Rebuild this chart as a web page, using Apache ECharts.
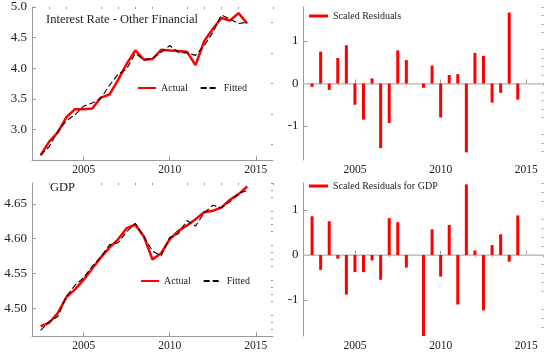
<!DOCTYPE html>
<html>
<head>
<meta charset="utf-8">
<script src="https://cdn.jsdelivr.net/npm/echarts@6/dist/echarts.min.js"></script>
<style>html,body{margin:0;padding:0;background:#fff}#c{width:550px;height:352px}</style>
</head>
<body>
<div id="c"></div>
<script>
// ---- data ----
var dates = [2002.5, 2003, 2003.5, 2004, 2004.5, 2005, 2005.5, 2006, 2006.5, 2007, 2007.5, 2008, 2008.5,
             2009, 2009.5, 2010, 2010.5, 2011, 2011.5, 2012, 2012.5, 2013, 2013.5, 2014, 2014.5];
var rateActual = [2.58, 2.80, 2.95, 3.20, 3.33, 3.33, 3.34, 3.52, 3.57, 3.81, 4.07, 4.29, 4.14,
                  4.15, 4.30, 4.29, 4.28, 4.27, 4.05, 4.44, 4.64, 4.82, 4.78, 4.90, 4.73];
var rateFitted = [2.58, 2.72, 2.97, 3.14, 3.24, 3.38, 3.43, 3.51, 3.72, 3.90, 3.99, 4.24, 4.14,
                  4.16, 4.26, 4.37, 4.26, 4.25, 4.21, 4.37, 4.58, 4.87, 4.80, 4.73, 4.75];
var rateResid = [-0.08, 0.75, -0.15, 0.60, 0.90, -0.50, -0.85, 0.12, -1.52, -0.93, 0.78, 0.55, 0.0,
                 -0.10, 0.42, -0.80, 0.20, 0.22, -1.62, 0.72, 0.65, -0.45, -0.22, 1.67, -0.38];
var gdpActual = [4.474, 4.479, 4.493, 4.516, 4.527, 4.541, 4.557, 4.573, 4.587, 4.599, 4.615, 4.620, 4.603,
                 4.570, 4.579, 4.599, 4.611, 4.619, 4.628, 4.638, 4.640, 4.645, 4.656, 4.664, 4.675];
var gdpFitted = [4.468, 4.481, 4.488, 4.517, 4.533, 4.544, 4.560, 4.574, 4.591, 4.594, 4.610, 4.622, 4.603,
                 4.582, 4.575, 4.602, 4.607, 4.626, 4.618, 4.637, 4.648, 4.644, 4.653, 4.665, 4.669];
var gdpResid = [0.86, -0.33, 0.75, -0.08, -0.88, -0.38, -0.38, -0.12, -0.55, 0.82, 0.73, -0.28, 0.0,
                -1.92, 0.57, -0.48, 0.67, -1.10, 1.57, 0.10, -1.23, 0.22, 0.46, -0.15, 0.88];

var xMajor = [2005, 2010, 2015];
var xMinor = [2003, 2004, 2006, 2007, 2008, 2009, 2011, 2012, 2013, 2014, 2016];
var rateTicks = [3.0, 3.5, 4.0, 4.5, 5.0];
var rateMinor = [2.75, 3.25, 3.75, 4.25, 4.75];
var residTicks = [-1, 0, 1];
var residMinor = [-1.6, -1.4, -1.2, -0.8, -0.6, -0.4, -0.2, 0.2, 0.4, 0.6, 0.8, 1.2, 1.4, 1.6, 1.8];
var gdpTicks = [4.50, 4.55, 4.60, 4.65];
var gdpMinor = [4.47, 4.48, 4.49, 4.51, 4.52, 4.53, 4.54, 4.56, 4.57, 4.58, 4.59, 4.61, 4.62, 4.63, 4.64, 4.66, 4.67, 4.68];

// ---- chart ----
var FONT = "'Liberation Serif','Times New Roman',serif";
var AX = '#9a9a9a';
function pairs(xs, ys) { return xs.map(function (x, i) { return [x, ys[i]]; }); }

var grids = [
  {left: 32, top: 7, width: 241, height: 153},
  {left: 303.5, top: 7, width: 240, height: 153},
  {left: 32, top: 183, width: 241, height: 153},
  {left: 303.5, top: 183, width: 240, height: 153}
];
grids.forEach(function (g) { g.outerBoundsMode = 'none'; g.containLabel = false; });

var xAxes = [], yAxes = [];
var yCfg = [
  {min: 2.5, max: 5.0, major: rateTicks, minor: rateMinor, fmt: function (v) { return v.toFixed(1); }},
  {min: -1.8, max: 1.8, major: residTicks, minor: residMinor, fmt: function (v) { return String(Math.round(v)); }},
  {min: 4.46, max: 4.68, major: gdpTicks, minor: gdpMinor, fmt: function (v) { return v.toFixed(2); }},
  {min: -1.8, max: 1.6, major: residTicks, minor: residMinor.filter(function (v) { return v <= 1.6; }), fmt: function (v) { return String(Math.round(v)); }}
];
for (var g = 0; g < 4; g++) {
  xAxes.push({
    type: 'value', gridIndex: g, min: 2002, max: 2016,
    axisLine: {show: true, lineStyle: {color: AX, width: 1}},
    axisTick: {show: true, inside: true, length: 4, customValues: xMajor, lineStyle: {color: AX}},
    axisLabel: {show: true, customValues: xMajor, margin: 4, formatter: function (v) { return String(Math.round(v)); },
      fontFamily: FONT, fontSize: 11.5, color: '#222'},
    splitLine: {show: false}
  });
  xAxes.push({
    type: 'value', gridIndex: g, min: 2002, max: 2016,
    axisLine: {show: false},
    axisTick: {show: true, inside: true, length: 2, customValues: xMinor, lineStyle: {color: AX}},
    axisLabel: {show: false},
    splitLine: {show: false}
  });
  var c = yCfg[g];
  yAxes.push({
    type: 'value', gridIndex: g, min: c.min, max: c.max,
    axisLine: {show: true, lineStyle: {color: AX, width: 1}},
    axisTick: {show: true, inside: true, length: 4, customValues: c.major, lineStyle: {color: AX}},
    axisLabel: {show: true, customValues: c.major, margin: 5, formatter: c.fmt, fontFamily: FONT, fontSize: 13, color: '#222'},
    splitLine: {show: false}
  });
  yAxes.push({
    type: 'value', gridIndex: g, min: c.min, max: c.max,
    axisLine: {show: false},
    axisTick: {show: true, inside: true, length: 2, customValues: c.minor, lineStyle: {color: AX}},
    axisLabel: {show: false},
    splitLine: {show: false}
  });
}

function actualLine(name, xi, data) {
  return {type: 'line', name: name, xAxisIndex: xi, yAxisIndex: xi, data: data, symbol: 'none',
    lineStyle: {color: '#ff0000', width: 2.5}, itemStyle: {color: '#ff0000'}, z: 3, animation: false};
}
function fittedLine(name, xi, data) {
  return {type: 'line', name: name, xAxisIndex: xi, yAxisIndex: xi, data: data, symbol: 'none',
    lineStyle: {color: '#000', width: 1.1, type: [6, 3]}, itemStyle: {color: '#000'}, z: 4, animation: false};
}
function residBars(name, xi, data) {
  return {type: 'bar', name: name, xAxisIndex: xi, yAxisIndex: xi, data: data, barWidth: 3,
    itemStyle: {color: '#ff0000'}, z: 3, animation: false,
    markLine: {silent: true, symbol: 'none', label: {show: false}, animation: false,
      lineStyle: {color: '#cfcfcf', width: 1.5, type: 'solid'}, data: [{yAxis: 0}], z: 1}};
}

var legendText = {fontFamily: FONT, fontSize: 10, color: '#222'};
function lineLegend(left, top) {
  return {data: ['Actual', 'Fitted'], left: left, top: top, padding: 0, itemWidth: 18, itemHeight: 8, itemGap: 12,
    itemStyle: {opacity: 0}, textStyle: legendText, selectedMode: false};
}
function barLegend(name, left, top) {
  return {data: [name], left: left, top: top, padding: 0, itemWidth: 19, itemHeight: 3, icon: 'rect',
    textStyle: legendText, selectedMode: false};
}
var option = {
  backgroundColor: '#fff',
  animation: false,
  grid: grids,
  xAxis: xAxes,
  yAxis: yAxes,
  legend: [
    lineLegend(137, 83),
    barLegend('Scaled Residuals', 309, 11),
    lineLegend(140, 276),
    barLegend('Scaled Residuals for GDP', 309, 181)
  ],
  title: [
    {text: 'Interest Rate - Other Financial', left: 41, top: 8, textStyle: {fontFamily: FONT, fontSize: 12.5, fontWeight: 'normal', color: '#222'}},
    {text: 'GDP', left: 45, top: 176, textStyle: {fontFamily: FONT, fontSize: 12.5, fontWeight: 'normal', color: '#222'}}
  ],
  series: [
    actualLine('Actual', 0, pairs(dates, rateActual)),
    fittedLine('Fitted', 0, pairs(dates, rateFitted)),
    residBars('Scaled Residuals', 2, pairs(dates, rateResid)),
    actualLine('Actual', 4, pairs(dates, gdpActual)),
    fittedLine('Fitted', 4, pairs(dates, gdpFitted)),
    residBars('Scaled Residuals for GDP', 6, pairs(dates, gdpResid))
  ]
};
var chart = echarts.init(document.getElementById('c'), null, {renderer: 'canvas'});
chart.setOption(option);
</script>
</body>
</html>
